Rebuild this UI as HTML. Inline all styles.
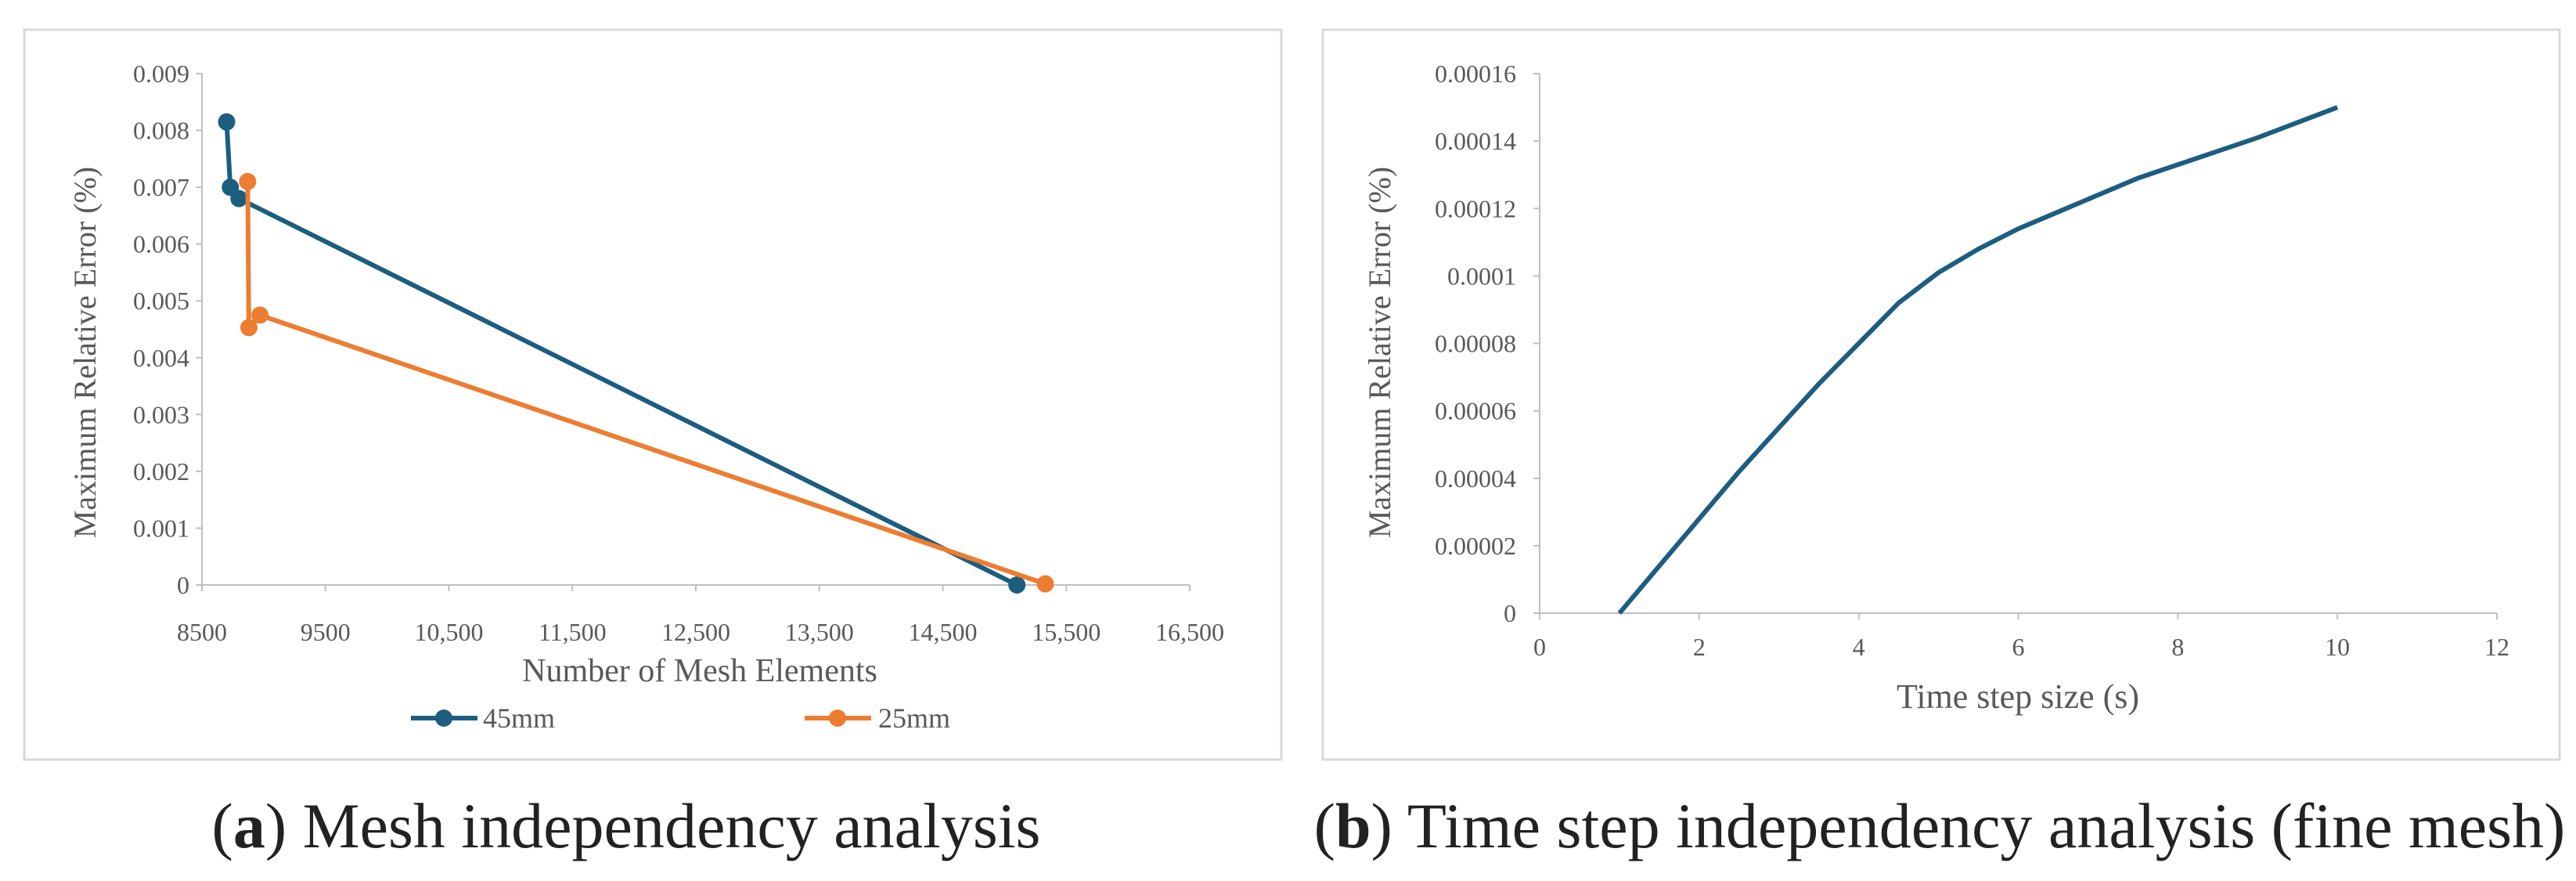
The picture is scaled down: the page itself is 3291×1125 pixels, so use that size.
<!DOCTYPE html>
<html><head><meta charset="utf-8"><style>
html,body{margin:0;padding:0;background:#fff;}
body{width:3291px;height:1120px;overflow:hidden;font-family:"Liberation Serif",serif;}
svg text{font-family:"Liberation Serif",serif;}
</style></head><body>
<svg id="svg" width="3291" height="1120" xmlns="http://www.w3.org/2000/svg">
<rect x="31" y="38" width="1606" height="932" fill="#fff" stroke="#d9d9d9" stroke-width="3"/>
<rect x="1690" y="38" width="1580" height="932" fill="#fff" stroke="#d9d9d9" stroke-width="3"/>
<g id="ga"></g>
<g id="gb"></g>
<text x="122" y="450" transform="rotate(-90 122 450)" text-anchor="middle" font-size="40" fill="#595959">Maximum Relative Error (%)</text>
<text x="894" y="870" text-anchor="middle" font-size="42" fill="#595959">Number of Mesh Elements</text>
<g>
<g><line x1="525" y1="917" x2="610" y2="917" stroke="#1c5d80" stroke-width="6"/><circle cx="567" cy="917" r="11" fill="#1c5d80"/><text x="617" y="929" font-size="36" fill="#595959">45mm</text></g>
<g><line x1="1028" y1="917" x2="1113" y2="917" stroke="#ed7d31" stroke-width="6"/><circle cx="1070" cy="917" r="11" fill="#ed7d31"/><text x="1122" y="929" font-size="36" fill="#595959">25mm</text></g>
</g>
<text x="1776" y="450" transform="rotate(-90 1776 450)" text-anchor="middle" font-size="40" fill="#595959">Maximum Relative Error (%)</text>
<text x="2578" y="904" text-anchor="middle" font-size="44" fill="#595959">Time step size (s)</text>
<text x="800" y="1082" text-anchor="middle" font-size="82" fill="#222">(<tspan font-weight="bold">a</tspan>) Mesh independency analysis</text>
<text x="2478" y="1082" text-anchor="middle" font-size="82" fill="#222">(<tspan font-weight="bold">b</tspan>) Time step independency analysis (fine mesh)</text>
</svg>
<script>
const aXTicks=[8500,9500,10500,11500,12500,13500,14500,15500,16500];
const aXTickLabels=["8500","9500","10,500","11,500","12,500","13,500","14,500","15,500","16,500"];
const aYTicks=[0,0.001,0.002,0.003,0.004,0.005,0.006,0.007,0.008,0.009];
const aYTickLabels=["0","0.001","0.002","0.003","0.004","0.005","0.006","0.007","0.008","0.009"];
const s45x=[8700,8730,8800,15100];
const s45y=[0.00815,0.0070,0.0068,0];
const s25x=[8870,8880,8970,15330];
const s25y=[0.0071,0.00453,0.00475,0.00002];
const bXTicks=[0,2,4,6,8,10,12];
const bYTicks=[0,0.00002,0.00004,0.00006,0.00008,0.0001,0.00012,0.00014,0.00016];
const bYTickLabels=["0","0.00002","0.00004","0.00006","0.00008","0.0001","0.00012","0.00014","0.00016"];
const tx=[1,1.5,2,2.5,3,3.5,4,4.5,5,5.5,6,6.5,7,7.5,8,8.5,9,9.5,10];
const ty=[0,0.000014,0.000028,0.000042,0.000055,0.000068,0.00008,0.000092,0.000101,0.000108,0.000114,0.000119,0.000124,0.000129,0.000133,0.000137,0.000141,0.0001455,0.00015];
const NS="http://www.w3.org/2000/svg";
function mk(p,t,at){const e=document.createElementNS(NS,t);for(const k in at)e.setAttribute(k,at[k]);p.appendChild(e);return e;}
const ga=document.getElementById('ga');
const ax=v=>258+(v-8500)/8000*(1520-258);
const ay=v=>747-v/0.009*(747-94);
let e=mk(ga,'line',{x1:258,y1:ay(0),x2:258,y2:ay(0.009),stroke:'#bfbfbf','stroke-width':2});

e=mk(ga,'line',{x1:258,y1:ay(0),x2:1520,y2:ay(0),stroke:'#bfbfbf','stroke-width':2});

aYTicks.forEach((v,i)=>{mk(ga,'line',{x1:250,x2:258,y1:ay(v),y2:ay(v),stroke:'#bfbfbf','stroke-width':2});
 const t=mk(ga,'text',{x:242,y:ay(v)+11,'text-anchor':'end','font-size':32,fill:'#595959'});t.textContent=aYTickLabels[i];
 });
aXTicks.forEach((v,i)=>{mk(ga,'line',{x1:ax(v),x2:ax(v),y1:ay(0),y2:ay(0)+8,stroke:'#bfbfbf','stroke-width':2});
 const t=mk(ga,'text',{x:ax(v),y:818,'text-anchor':'middle','font-size':32,fill:'#595959'});t.textContent=aXTickLabels[i];
 });
function series(g,xs,ys,fx,fy,col,name,markers){
 const p=mk(g,'polyline',{points:xs.map((x,i)=>fx(x)+','+fy(ys[i])).join(' '),fill:'none',stroke:col,'stroke-width':6,'stroke-linejoin':'round'});
 
 if(markers)xs.forEach((x,i)=>{const c=mk(g,'circle',{cx:fx(x),cy:fy(ys[i]),r:11,fill:col});
  });
}
series(ga,s45x,s45y,ax,ay,'#1c5d80','series-45mm',true);
series(ga,s25x,s25y,ax,ay,'#ed7d31','series-25mm',true);
const gb=document.getElementById('gb');
const bx=v=>1967+v/12*(3190-1967);
const by=v=>783-v/0.00016*(783-94);
e=mk(gb,'line',{x1:1967,y1:by(0),x2:1967,y2:by(0.00016),stroke:'#bfbfbf','stroke-width':2});

e=mk(gb,'line',{x1:1967,y1:by(0),x2:3190,y2:by(0),stroke:'#bfbfbf','stroke-width':2});

bYTicks.forEach((v,i)=>{mk(gb,'line',{x1:1959,x2:1967,y1:by(v),y2:by(v),stroke:'#bfbfbf','stroke-width':2});
 const t=mk(gb,'text',{x:1937,y:by(v)+11,'text-anchor':'end','font-size':32,fill:'#595959'});t.textContent=bYTickLabels[i];
 });
bXTicks.forEach(v=>{mk(gb,'line',{x1:bx(v),x2:bx(v),y1:by(0),y2:by(0)+8,stroke:'#bfbfbf','stroke-width':2});
 const t=mk(gb,'text',{x:bx(v),y:837,'text-anchor':'middle','font-size':32,fill:'#595959'});t.textContent=String(v);
 });
series(gb,tx,ty,bx,by,'#1c5d80','series-time-step',false);
</script>
</body></html>
